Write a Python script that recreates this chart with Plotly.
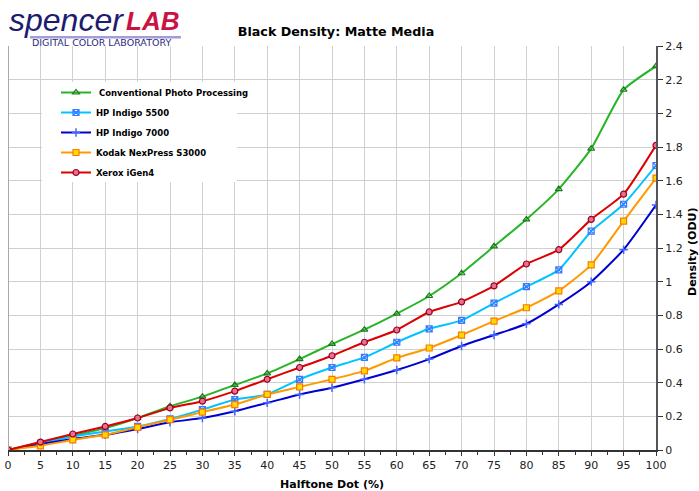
import plotly.graph_objects as go

x = [0, 5, 10, 15, 20, 25, 30, 35, 40, 45, 50, 55, 60, 65, 70, 75, 80, 85, 90, 95, 100]

conventional = [0, 0.045, 0.085, 0.13, 0.19, 0.26, 0.317, 0.386, 0.455, 0.54, 0.63, 0.715, 0.81, 0.915, 1.05, 1.21, 1.37, 1.55, 1.79, 2.14, 2.28]
indigo5500 = [0, 0.04, 0.08, 0.11, 0.14, 0.185, 0.24, 0.30, 0.33, 0.42, 0.49, 0.55, 0.64, 0.72, 0.77, 0.873, 0.97, 1.07, 1.30, 1.46, 1.69]
indigo7000 = [0, 0.035, 0.065, 0.09, 0.125, 0.165, 0.19, 0.23, 0.28, 0.33, 0.37, 0.42, 0.475, 0.54, 0.618, 0.683, 0.75, 0.865, 1.00, 1.19, 1.455]
nexpress = [0, 0.025, 0.06, 0.09, 0.135, 0.18, 0.225, 0.27, 0.33, 0.375, 0.42, 0.47, 0.547, 0.606, 0.683, 0.766, 0.845, 0.945, 1.10, 1.36, 1.615]
igen4 = [0, 0.047, 0.095, 0.14, 0.19, 0.25, 0.29, 0.35, 0.42, 0.49, 0.56, 0.64, 0.713, 0.82, 0.88, 0.975, 1.105, 1.19, 1.37, 1.52, 1.81]

series = [
    ("Conventional Photo Processing", conventional, "#28b428", dict(symbol="triangle-up-open", color="#1a7a1a", size=6, line=dict(width=1.2, color="#1a7a1a"))),
    ("HP Indigo 5500", indigo5500, "#00c4ff", dict(symbol="square-x-open", color="#3a7aff", size=6, line=dict(width=1.2, color="#3a7aff"))),
    ("HP Indigo 7000", indigo7000, "#0000d0", dict(symbol="cross-thin", color="#4466ff", size=6, line=dict(width=1.5, color="#4466ff"))),
    ("Kodak NexPress S3000", nexpress, "#ff9900", dict(symbol="square", color="#ffdd00", size=6, line=dict(width=1.2, color="#ff7700"))),
    ("Xerox iGen4", igen4, "#dd0000", dict(symbol="circle", color="#e87090", size=6, line=dict(width=1.2, color="#990022"))),
]

W, H = 699, 491
L, R, T, B = 8, 43, 46, 41
PW, PH = W - L - R, H - T - B

def px(xp):
    return (xp - L) / PW

def py(yp):
    return (H - B - yp) / PH

fig = go.Figure()
for i, (name, ys, col, mk) in enumerate(series):
    label = ("<b>&#160;" + name + "</b>") if i == 0 else "<b>" + name + "</b>"
    fig.add_trace(go.Scatter(
        x=x, y=ys, name=label, mode="lines+markers",
        line=dict(color=col, width=2, shape="spline", smoothing=0.5),
        marker=mk, legendgroup=f"g{i}",
    ))

fig.update_layout(
    width=W, height=H,
    margin=dict(l=L, r=R, t=T, b=B, autoexpand=False),
    paper_bgcolor="white", plot_bgcolor="white",
    font=dict(family="DejaVu Sans", size=11, color="#222"),
    title=dict(text="<b>Black Density: Matte Media</b>", x=336 / W, xanchor="center", xref="container",
               y=1 - 32 / H, yanchor="middle", yref="container", font=dict(size=12.7, color="black")),
    showlegend=True,
    legend=dict(x=px(56), y=py(78), xanchor="left", yanchor="top",
                bgcolor="rgba(0,0,0,0)", borderwidth=0,
                font=dict(size=8.5, color="black", family="DejaVu Sans"),
                traceorder="grouped", tracegroupgap=1, itemwidth=30),
    xaxis=dict(range=[0, 100], tickmode="array", tickvals=list(range(0, 101, 5)),
               showgrid=True, gridcolor="#d0d0d0", gridwidth=1,
               ticks="outside", ticklen=4, tickcolor="#333",
               showline=True, linecolor="#333", linewidth=1.5,
               minor=dict(ticks="outside", ticklen=3, tickcolor="#333", dtick=2.5, showgrid=False),
               tickfont=dict(size=11, color="#222"),
               title=dict(text="<b>Halftone Dot (%)</b>", font=dict(size=11, color="black"), standoff=13),
               zeroline=False, fixedrange=True, automargin=False),
    yaxis=dict(range=[0, 2.4], side="right", tickmode="array",
               tickvals=[0, 0.2, 0.4, 0.6, 0.8, 1, 1.2, 1.4, 1.6, 1.8, 2, 2.2, 2.4],
               ticktext=["0", "0.2", "0.4", "0.6", "0.8", "1", "1.2", "1.4", "1.6", "1.8", "2", "2.2", "2.4"],
               showgrid=True, gridcolor="#d0d0d0", gridwidth=1,
               ticks="outside", ticklen=5, tickcolor="#333",
               showline=True, linecolor="#555", linewidth=2,
               tickfont=dict(size=11, color="#222"),
               zeroline=False, fixedrange=True, automargin=False),
)

# y-axis title as annotation (partly cut at the right edge, as in the reference)
fig.add_annotation(xref="paper", yref="paper", x=px(692), y=py(252), xanchor="center", yanchor="middle",
                   showarrow=False, textangle=-90, text="<b>Density (ODU)</b>",
                   font=dict(size=11, color="black", family="DejaVu Sans"))

# legend white box covering the grid
fig.add_shape(type="rect", xref="paper", yref="paper", x0=px(42), x1=px(237), y0=py(182), y1=py(82),
              line=dict(width=0), fillcolor="white", layer="above")

# left border line
fig.add_shape(type="line", xref="x", yref="paper", x0=0, x1=0, y0=0, y1=1,
              line=dict(color="#aaaaaa", width=2))

# Logo
fig.add_annotation(xref="paper", yref="paper", x=px(7), y=py(20),
                   xanchor="left", yanchor="middle", showarrow=False,
                   text="<i>spencer</i>", font=dict(family="Liberation Sans", size=32, color="#1c1c70"))
fig.add_annotation(xref="paper", yref="paper", x=px(124), y=py(21),
                   xanchor="left", yanchor="middle", showarrow=False,
                   text="<b><i>LAB</i></b>", font=dict(family="Liberation Sans", size=26, color="#cc1144"))
fig.add_shape(type="rect", xref="paper", yref="paper",
              x0=px(30), x1=px(181), y0=py(38.5), y1=py(36),
              line=dict(width=0), fillcolor="#a49cd4", layer="below")
fig.add_annotation(xref="paper", yref="paper", x=px(30), y=py(42.5),
                   xanchor="left", yanchor="middle", showarrow=False,
                   text="DIGITAL COLOR LABORATORY", font=dict(family="DejaVu Sans", size=9.5, color="#2a2a80"))

fig.write_html("out.html", config={"displayModeBar": False},
               post_script="document.body.style.margin='0px';document.body.style.overflow='hidden';")
